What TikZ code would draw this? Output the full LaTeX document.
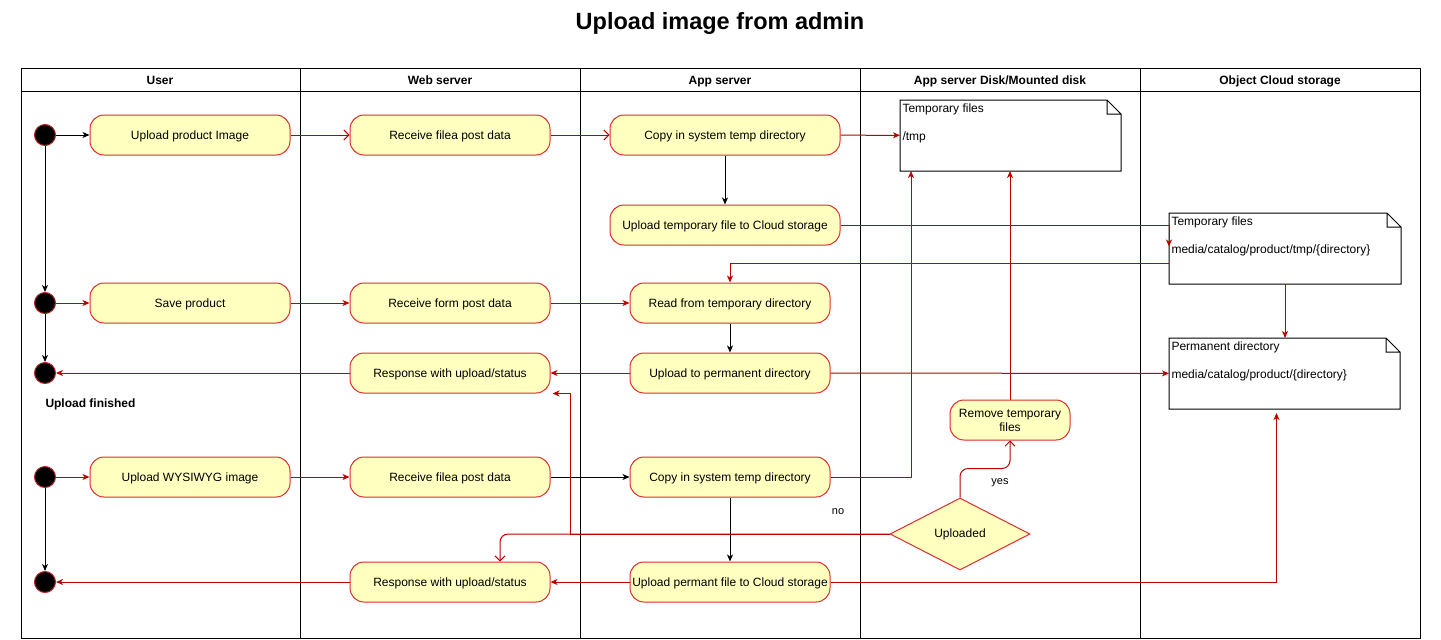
\documentclass[tikz,border=0pt]{standalone}
\usepackage{fontspec}
\setmainfont{Liberation Sans}
\usetikzlibrary{arrows.meta, positioning, shapes.geometric}

\definecolor{boxfill}{HTML}{FFFFC0}
\definecolor{boxred}{HTML}{DD2C2C}
\definecolor{edgered}{HTML}{BB0000}

% note text: width, first line, second line
\newcommand{\notetext}[3]{\parbox[t][64pt][t]{#1}{\raggedright #2\\[14pt]#3}}

\begin{document}
\begin{tikzpicture}[
    x=1pt, y=-1pt, line width=1pt,
    every node/.style={font=\fontsize{12}{14}\selectfont},
    % activity box
    activity/.style={draw=boxred, fill=boxfill, rounded corners=14pt,
                     minimum width=200pt, minimum height=40pt, inner sep=0pt,
                     align=center, text height=8.7pt, text depth=0pt},
    % start and end dots
    startdot/.style={circle, fill=black, draw=boxred!85!black,
                     minimum size=21pt, inner sep=0pt},
    % folded notes
    note/.style={anchor=north west, inner xsep=2pt, inner ysep=3pt},
    lanehead/.style={font=\fontsize{12}{14}\selectfont\bfseries, anchor=base},
    edgelabel/.style={font=\fontsize{11}{13}\selectfont},
    % black control arrow
    ctrl/.style={-{Stealth[length=7pt, width=6pt, inset=2pt]}, black},
    % red data arrows
    flow/.style={-{Stealth[length=7pt, width=6pt, inset=2pt]}, edgered},
    openflow/.style={-{Straight Barb[length=5pt, width=10pt]}, edgered}
]
\useasboundingbox (0,0) rectangle (1441,640);

% === TITLE AND LANES ===
\node[font=\fontsize{23.5}{28}\selectfont\bfseries] (title) at (720,23) {Upload image from admin};

\draw (21,68) rectangle (1420,638);
\draw (21,91) -- (1420,91);
\foreach \x in {300,580,860,1140}
    \draw (\x,68) -- (\x,638);

\node[lanehead] (hdUser) at (160,84) {User};
\node[lanehead] (hdWeb) at (440,84) {Web server};
\node[lanehead] (hdApp) at (720,84) {App server};
\node[lanehead] (hdDisk) at (1000,84) {App server Disk/Mounted disk};
\node[lanehead] (hdCloud) at (1280,84) {Object Cloud storage};

% === NODES ===

% dots in the user lane
\node[startdot] (s1) at (45,135) {};
\node[startdot] (s3) at (45,303) {};
\node[startdot] (e4) at (45,373) {};
\node[startdot] (s5) at (45,477) {};
\node[startdot] (e6) at (45,582) {};
\node[font=\fontsize{12}{14}\selectfont\bfseries, anchor=west, inner sep=0pt] (finished) at (45,404) {Upload finished};

% row 1 and 2
\node[activity] (upimg) at (190,135) {Upload product Image};
\node[activity] (recv1) at (450,135) {Receive filea post data};
\node[activity, minimum width=230pt] (copy1) at (725,135) {Copy in system temp directory};
\node[activity, minimum width=230pt] (uptmp) at (725,225) {Upload temporary file to Cloud storage};

% row 3 and 4
\node[activity] (saveprod) at (190,303) {Save product};
\node[activity] (recvform) at (450,303) {Receive form post data};
\node[activity] (read) at (730,303) {Read from temporary directory};
\node[activity] (resp4) at (450,373) {Response with upload/status};
\node[activity] (uptoperm) at (730,373) {Upload to permanent directory};

% row 5 and 6
\node[activity] (upwys) at (190,477) {Upload WYSIWYG image};
\node[activity] (recv5) at (450,477) {Receive filea post data};
\node[activity] (copy5) at (730,477) {Copy in system temp directory};
\node[activity] (resp6) at (450,582) {Response with upload/status};
\node[activity] (upperm) at (730,582) {Upload permant file to Cloud storage};

% disk lane
\node[activity, minimum width=120pt, text height=, text depth=] (rmtmp) at (1010,420) {Remove temporary\\files};
\node[draw=boxred, fill=boxfill, diamond, aspect=2, minimum width=140pt,
      minimum height=72pt, inner sep=0pt] (uploaded) at (960,534) {Uploaded};

% notes
\node[note] (tmpdir) at (900,100) {\notetext{216pt}{Temporary files}{/tmp}};
\node[note] (cloudtmp) at (1169,213) {\notetext{227pt}{Temporary files}{media/catalog/product/tmp/\{directory\}}};
\node[note] (permdir) at (1169,338) {\notetext{226pt}{Permanent directory}{media/catalog/product/\{directory\}}};

\foreach \n in {tmpdir,cloudtmp,permdir}
    \draw (\n.north west) -- ([xshift=-14pt]\n.north east) -- ([yshift=-14pt]\n.north east)
          -- (\n.south east) -- (\n.south west) -- cycle
          ([xshift=-14pt]\n.north east) |- ([yshift=-14pt]\n.north east);

% === ARROWS ===

% product image upload
\draw[ctrl] (s1) -- (upimg);
\draw[ctrl] (s1) -- (s3);
\draw[openflow] (upimg) -- (recv1);
\draw[openflow] (recv1) -- (copy1);
\draw[flow] (copy1) -- (tmpdir);
\draw[ctrl] (copy1) -- (uptmp);
\draw[flow] (uptmp) -| ([yshift=2pt]cloudtmp.west);
\draw[flow] ([yshift=-15pt]cloudtmp.west) -| (read);
\draw[flow] (cloudtmp.south) -- (cloudtmp.south |- permdir.north);

% save product
\draw[flow] (s3) -- (saveprod);
\draw[flow] (saveprod) -- (recvform);
\draw[flow] (recvform) -- (read);
\draw[ctrl] (s3) -- (e4);
\draw[ctrl] (read) -- (uptoperm);
\draw[flow] (uptoperm) -- (resp4);
\draw[flow] (resp4) -- (e4);
\draw[flow] (uptoperm) -- (permdir);

% wysiwyg upload
\draw[flow] (s5) -- (upwys);
\draw[flow] (upwys) -- (recv5);
\draw[ctrl] (recv5) -- (copy5);
\draw[flow] (copy5) -| ([xshift=11pt]tmpdir.south west);
\draw[ctrl] (s5) -- (e6);
\draw[ctrl] (copy5) -- (upperm);
\draw[flow] (upperm) -- (resp6);
\draw[flow] (resp6) -- (e6);
\draw[flow] (upperm) -| ([xshift=-8pt, yshift=-4pt]permdir.south);

% decision
\draw[openflow, rounded corners=8pt] (uploaded.north) -- ++(0,-29) -| (rmtmp);
\draw[flow] (rmtmp) -- (rmtmp |- tmpdir.south);
\draw[openflow, rounded corners=8pt] (uploaded.west) -| ([xshift=50pt]resp6.north);
\draw[flow] (uploaded.west) -| ([xshift=20pt]resp4.south east) -- ([xshift=2pt]resp4.south east);

\node[edgelabel] (yeslbl) at (1000,483) {yes};
\node[edgelabel] (nolbl) at (838,512) {no};

\end{tikzpicture}
\end{document}
